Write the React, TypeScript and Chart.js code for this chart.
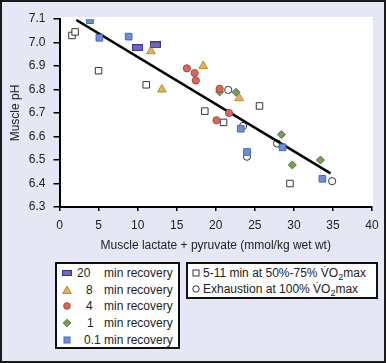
import React, { useEffect, useRef } from "react";
import { Chart, registerables } from "chart.js";

Chart.register(...registerables);

// ---- data ----
const xTickValues = [0, 5, 10, 15, 20, 25, 30, 35, 40];
const yTickValues = [6.3, 6.4, 6.5, 6.6, 6.7, 6.8, 6.9, 7.0, 7.1];

const recovery20 = [
  { x: 10.0, y: 6.978 },
  { x: 12.25, y: 6.99 },
];
const recovery8 = [
  { x: 11.7, y: 6.963 },
  { x: 13.1, y: 6.8 },
  { x: 18.4, y: 6.9 },
  { x: 23.0, y: 6.763 },
];
const recovery4 = [
  { x: 16.3, y: 6.89 },
  { x: 17.3, y: 6.87 },
  { x: 17.45, y: 6.838 },
  { x: 20.5, y: 6.803 },
  { x: 21.7, y: 6.7 },
  { x: 20.1, y: 6.669 },
];
const recovery1 = [
  { x: 20.5, y: 6.79 },
  { x: 22.6, y: 6.788 },
  { x: 28.4, y: 6.608 },
  { x: 29.8, y: 6.479 },
  { x: 33.4, y: 6.5 },
];
const recovery01 = [
  { x: 3.9, y: 7.095 },
  { x: 5.1, y: 7.02 },
  { x: 8.85, y: 7.025 },
  { x: 23.2, y: 6.633 },
  { x: 24.0, y: 6.534 },
  { x: 28.55, y: 6.554 },
  { x: 33.65, y: 6.42 },
];
const submaximal = [
  { x: 1.6, y: 7.03 },
  { x: 2.0, y: 7.045 },
  { x: 5.0, y: 6.88 },
  { x: 11.1, y: 6.82 },
  { x: 18.6, y: 6.708 },
  { x: 21.0, y: 6.66 },
  { x: 25.6, y: 6.73 },
  { x: 29.5, y: 6.4 },
];
const exhaustion = [
  { x: 21.6, y: 6.798 },
  { x: 23.5, y: 6.645 },
  { x: 24.0, y: 6.514 },
  { x: 27.85, y: 6.57 },
  { x: 34.9, y: 6.41 },
];
const regressionLine = [
  { x: 2.15, y: 7.096 },
  { x: 34.7, y: 6.443 },
];

const recoveryMinutes = ["20", "8", "4", "1", "0.1"];
const recoveryKinds = ["bar", "tri", "circ", "diam", "sq"];
const xAxisTitle = "Muscle lactate + pyruvate (mmol/kg wet wt)";
const yAxisTitle = "Muscle pH";

// ---- styles ----
const COLORS: Record<string, { fill: string; stroke: string }> = {
  bar: { fill: "#6f66bf", stroke: "#3b3590" },
  tri: { fill: "#e4b455", stroke: "#b98a2e" },
  circ: { fill: "#d9675c", stroke: "#ad473f" },
  diam: { fill: "#74a05a", stroke: "#4d773a" },
  sq: { fill: "#6e8fd8", stroke: "#4567b3" },
};
const FONT = "'Liberation Sans', Arial, Helvetica, sans-serif";
const BG = "#e5e8f4";

function Icon({ kind }: { kind: string }) {
  const c = COLORS[kind];
  let shape: React.ReactNode = null;
  if (kind === "bar")
    shape = <rect x={1.5} y={3.5} width={9} height={5} fill={c.fill} stroke={c.stroke} strokeWidth={1} />;
  if (kind === "tri")
    shape = <polygon points="6,2 10.3,9.5 1.7,9.5" fill={c.fill} stroke={c.stroke} strokeWidth={1} />;
  if (kind === "circ") shape = <circle cx={6} cy={6} r={3.3} fill={c.fill} stroke={c.stroke} strokeWidth={1} />;
  if (kind === "diam")
    shape = <polygon points="6,2.2 9.8,6 6,9.8 2.2,6" fill={c.fill} stroke={c.stroke} strokeWidth={1} />;
  if (kind === "sq")
    shape = <rect x={3} y={3} width={6} height={6} fill={c.fill} stroke={c.stroke} strokeWidth={1} />;
  if (kind === "osq") shape = <rect x={3} y={3} width={6} height={6} fill="#fff" stroke="#333" strokeWidth={1} />;
  if (kind === "ocirc") shape = <circle cx={6} cy={6} r={3.2} fill="#fff" stroke="#333" strokeWidth={1} />;
  return (
    <svg width={12} height={12} style={{ position: "absolute", display: "block" }}>
      {shape}
    </svg>
  );
}

const numberLeft = [20, 29, 29, 30, 27];

function VO2() {
  return (
    <span>
      V{"\u0307"}O<span style={{ fontSize: 9, position: "relative", top: 3 }}>2</span>max
    </span>
  );
}

export default function App() {
  const ref = useRef<HTMLCanvasElement | null>(null);

  useEffect(() => {
    const canvas = ref.current;
    if (!canvas) return;

    const barImg = document.createElement("canvas");
    barImg.width = 11;
    barImg.height = 7;
    const bctx = barImg.getContext("2d")!;
    bctx.fillStyle = COLORS.bar.fill;
    bctx.strokeStyle = COLORS.bar.stroke;
    bctx.lineWidth = 1;
    bctx.fillRect(0.5, 0.5, 10, 6);
    bctx.strokeRect(0.5, 0.5, 10, 6);

    const plotBg = {
      id: "plotBg",
      beforeDraw(chart: any) {
        const { ctx, chartArea } = chart;
        ctx.save();
        ctx.fillStyle = "#ffffff";
        ctx.fillRect(chartArea.left, chartArea.top - 2, chartArea.right - chartArea.left + 1, chartArea.bottom - chartArea.top + 2);
        ctx.restore();
      },
    };

    const filled = (data: any[], kind: string, style: any, radius: number) => ({
      type: "scatter" as const,
      data,
      pointStyle: style,
      pointRadius: radius,
      pointBackgroundColor: COLORS[kind].fill,
      pointBorderColor: COLORS[kind].stroke,
      pointBorderWidth: 1,
      showLine: false,
    });

    const chart = new Chart(canvas, {
      type: "scatter",
      data: {
        datasets: [
          filled(recovery20, "bar", barImg, 5),
          filled(recovery8, "tri", "triangle", 5),
          filled(recovery4, "circ", "circle", 3.6),
          filled(recovery1, "diam", "rectRot", 4),
          filled(recovery01, "sq", "rect", 4.7),
          {
            type: "line" as const,
            data: regressionLine,
            borderColor: "#000",
            borderWidth: 2.5,
            pointRadius: 0,
            fill: false,
          } as any,
          {
            type: "scatter" as const,
            data: submaximal,
            pointStyle: "rect",
            pointRadius: 4.6,
            pointBackgroundColor: "#fff",
            pointBorderColor: "#333",
            pointBorderWidth: 1,
          },
          {
            type: "scatter" as const,
            data: exhaustion,
            pointStyle: "circle",
            pointRadius: 3.6,
            pointBackgroundColor: "#fff",
            pointBorderColor: "#333",
            pointBorderWidth: 1,
          },
        ],
      },
      options: {
        animation: false,
        responsive: false,
        events: [],
        layout: { padding: { top: 19, right: 14, bottom: 108, left: 0 } },
        plugins: { legend: { display: false }, tooltip: { enabled: false } },
        scales: {
          x: {
            type: "linear",
            min: 0,
            max: 40,
            afterFit: (s: any) => {
              s.height = 48;
            },
            afterBuildTicks: (s: any) => {
              s.ticks = xTickValues.map((v) => ({ value: v }));
            },
            grid: { drawOnChartArea: false, drawTicks: true, tickLength: 4, color: "#000", lineWidth: 1.5 },
            border: { display: true, color: "#000", width: 2 },
            ticks: { color: "#222", padding: 7, font: { family: FONT, size: 12 }, maxRotation: 0 },
            title: {
              display: true,
              text: xAxisTitle,
              color: "#222",
              font: { family: FONT, size: 12 },
              padding: { top: 0, bottom: 2 },
            },
          },
          y: {
            type: "linear",
            min: 6.3,
            max: 7.1,
            afterFit: (s: any) => {
              s.width = 59.5;
            },
            afterBuildTicks: (s: any) => {
              s.ticks = yTickValues.map((v) => ({ value: v }));
            },
            grid: { drawOnChartArea: false, drawTicks: true, tickLength: 6, color: "#000", lineWidth: 1.5 },
            border: { display: true, color: "#000", width: 2 },
            ticks: {
              color: "#222",
              padding: 8,
              font: { family: FONT, size: 12 },
              callback: (v: any) => Number(v).toFixed(1),
            },
            title: {
              display: true,
              text: yAxisTitle,
              color: "#222",
              font: { family: FONT, size: 12 },
              padding: { top: 8, bottom: 0 },
            },
          },
        },
      },
      plugins: [plotBg],
    } as any);

    return () => chart.destroy();
  }, []);

  return (
    <div
      style={{
        position: "absolute",
        left: 0,
        top: 0,
        width: 386,
        height: 363,
        background: BG,
        overflow: "hidden",
        fontFamily: FONT,
        fontSize: 12,
        color: "#222",
      }}
    >
      <canvas ref={ref} width={386} height={363} style={{ position: "absolute", left: 0, top: 0, width: 386, height: 363 }} />

      <div
        style={{
          position: "absolute",
          left: 55,
          top: 262,
          width: 125,
          height: 87,
          boxSizing: "border-box",
          border: "2px solid #111",
          background: "#fff",
        }}
      >
        {recoveryMinutes.map((m, i) => (
          <div key={m} style={{ position: "absolute", left: 0, top: 1 + i * 16.7, height: 16, width: 121, lineHeight: "16px" }}>
            <div style={{ position: "absolute", left: 4, top: 2 }}>
              <Icon kind={recoveryKinds[i]} />
            </div>
            <span style={{ position: "absolute", left: numberLeft[i] }}>{m}</span>
            <span style={{ position: "absolute", left: 47, whiteSpace: "nowrap" }}>min recovery</span>
          </div>
        ))}
      </div>

      <div
        style={{
          position: "absolute",
          left: 186,
          top: 262,
          width: 192,
          height: 37,
          boxSizing: "border-box",
          border: "2px solid #111",
          background: "#fff",
        }}
      >
        <div style={{ position: "absolute", left: 0, top: 1, height: 16, width: 188, lineHeight: "16px" }}>
          <div style={{ position: "absolute", left: 2, top: 2 }}>
            <Icon kind="osq" />
          </div>
          <span style={{ position: "absolute", left: 15, whiteSpace: "nowrap" }}>
            5-11 min at 50%-75% <VO2 />
          </span>
        </div>
        <div style={{ position: "absolute", left: 0, top: 16.5, height: 16, width: 188, lineHeight: "16px" }}>
          <div style={{ position: "absolute", left: 2, top: 2 }}>
            <Icon kind="ocirc" />
          </div>
          <span style={{ position: "absolute", left: 15, whiteSpace: "nowrap" }}>
            Exhaustion at 100% <VO2 />
          </span>
        </div>
      </div>

      <div
        style={{
          position: "absolute",
          left: 0,
          top: 0,
          width: 386,
          height: 363,
          boxSizing: "border-box",
          border: "2px solid #1a1a1a",
          pointerEvents: "none",
        }}
      />
    </div>
  );
}
